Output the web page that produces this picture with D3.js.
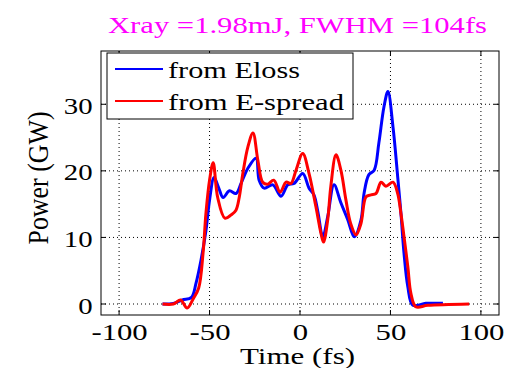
<!DOCTYPE html>
<html>
<head>
<meta charset="utf-8">
<script src="https://cdn.jsdelivr.net/npm/d3@7"></script>
<style>
  body { margin: 0; background: #fff; }
  svg { display: block; }
  svg text { font-family: "Liberation Serif", "Times New Roman", Times, serif; font-weight: normal; }
</style>
</head>
<body>
<svg id="chart" width="510" height="368"></svg>
<script>
// series
const elossT = [-76, -70, -65, -60, -57.5, -54.7, -52, -50, -47.5, -45, -42.5, -39, -35.4, -32.6, -28.8, -24.3, -22.6, -19.8, -15, -10.5, -6.7, -3.3, 1.5, 5, 7.7, 9.9, 12.6, 15.3, 18.8, 22.6, 26.5, 30, 33.7, 35.4, 38, 41, 43.6, 46.4, 48.6, 51.4, 54, 55.8, 57.5, 59.6, 62.4, 69.6, 79]
const elossP = [0, 0.1, 0.6, 1.0, 3.1, 6.6, 11, 15.6, 19, 17.5, 16, 17, 16.6, 18.1, 20.4, 21.9, 18.6, 17.4, 17.9, 16.2, 17.9, 18.1, 19.6, 17.4, 16.4, 13.8, 10.1, 13.1, 17.9, 15.2, 12.6, 10.1, 12.6, 16.6, 19.4, 20.1, 24.2, 29.6, 31.9, 26.6, 19.1, 13.6, 7.6, 2.6, -0.2, 0.1, 0.1]

const spreadT = [-76, -70, -66, -62.4, -59, -56, -53.6, -52, -50, -48, -45.5, -41.5, -38, -35.4, -33.6, -31.6, -28.8, -26, -23.3, -20.6, -17.9, -14.5, -11, -7.7, -5, -2.2, 1.5, 5, 8.8, 11.6, 13, 15.3, 17, 19.9, 22.6, 25.4, 28, 31, 33.7, 36.5, 39.2, 42, 44.8, 47.5, 51.4, 54, 55.8, 57.5, 59.6, 61.3, 64, 70.7, 93.5]
const spreadP = [0, 0, 0.6, -0.6, 0.8, 2.4, 7.6, 13.6, 18.6, 21.2, 16, 12.9, 13.4, 14.1, 16, 19.6, 23.6, 25.7, 21.6, 18.3, 18.0, 18.6, 16.8, 18.3, 18.1, 20.1, 22.6, 19.6, 14.6, 10.6, 9.3, 12.6, 17.6, 22.4, 20.1, 15.6, 12.1, 10.4, 12.1, 16.1, 16.4, 16.6, 18.3, 17.7, 18.3, 16.6, 13.6, 10.1, 5.6, 1.6, -0.4, -0.2, 0]

const xTicks = [-100, -50, 0, 50, 100]
const yTicks = [0, 10, 20, 30]
const seriesNames = ["from Eloss", "from E-spread"]
const seriesColors = ["#0000ff", "#ff0000"]
const titleText = "Xray =1.98mJ, FWHM =104fs"

const svg = d3.select("#chart")
const plotL = 101, plotR = 499, plotT = 51, plotB = 315
const FONT = "Liberation Serif"

const x = d3.scaleLinear().domain([-110, 110]).range([plotL, plotR])
const y = d3.scaleLinear().domain([-1.65, 38]).range([plotB, plotT])

// grid
svg.append("g")
  .selectAll("line")
  .data(xTicks)
  .enter()
  .append("line")
  .attr("x1", (d) => x(d)).attr("x2", (d) => x(d))
  .attr("y1", plotT).attr("y2", plotB)
  .attr("stroke", "#000").attr("stroke-width", 1)
  .attr("stroke-dasharray", "1,3")
svg.append("g")
  .selectAll("line")
  .data(yTicks)
  .enter()
  .append("line")
  .attr("y1", (d) => y(d)).attr("y2", (d) => y(d))
  .attr("x1", plotL).attr("x2", plotR)
  .attr("stroke", "#000").attr("stroke-width", 1)
  .attr("stroke-dasharray", "1,3")

// curves
const line = d3.line()
  .x((d) => x(d[0]))
  .y((d) => y(d[1]))
  .curve(d3.curveCatmullRom.alpha(0.5))

const series = [
  d3.zip(elossT, elossP),
  d3.zip(spreadT, spreadP),
]
svg.append("g")
  .selectAll("path")
  .data(series)
  .enter()
  .append("path")
  .attr("d", line)
  .attr("fill", "none")
  .attr("stroke", (d, i) => seriesColors[i])
  .attr("stroke-width", 3)
  .attr("stroke-linejoin", "round")

// box + inward ticks
svg.append("rect")
  .attr("x", plotL).attr("y", plotT)
  .attr("width", plotR - plotL).attr("height", plotB - plotT)
  .attr("fill", "none").attr("stroke", "#000").attr("stroke-width", 1)

const tickLen = 5
const ticks = svg.append("g").attr("stroke", "#000").attr("stroke-width", 1)
xTicks.forEach((t) => {
  ticks.append("line").attr("x1", x(t)).attr("x2", x(t)).attr("y1", plotB).attr("y2", plotB - tickLen)
  ticks.append("line").attr("x1", x(t)).attr("x2", x(t)).attr("y1", plotT).attr("y2", plotT + tickLen)
})
yTicks.forEach((t) => {
  ticks.append("line").attr("y1", y(t)).attr("y2", y(t)).attr("x1", plotL).attr("x2", plotL + tickLen)
  ticks.append("line").attr("y1", y(t)).attr("y2", y(t)).attr("x1", plotR).attr("x2", plotR - tickLen)
})

// axis labels
const xAxis = svg.append("g")
  .attr("transform", `translate(0,${plotB})`)
  .call(d3.axisBottom(x).tickValues(xTicks).tickSize(0).tickPadding(8).tickFormat((d) => String(d)))
xAxis.attr("font-family", FONT)
xAxis.select(".domain").remove()
xAxis.selectAll("text")
  .attr("font-size", 24).attr("fill", "#000")
  .attr("transform", "scale(1.28,1)")

const yAxis = svg.append("g")
  .attr("transform", `translate(${plotL},0)`)
  .call(d3.axisLeft(y).tickValues(yTicks).tickSize(0).tickPadding(7))
yAxis.attr("font-family", FONT)
yAxis.select(".domain").remove()
yAxis.selectAll("text")
  .attr("font-size", 24).attr("fill", "#000")
  .attr("dy", "0.38em")
  .attr("transform", "scale(1.2,1)")

// title and labels
svg.append("text")
  .attr("x", 297.5).attr("y", 33)
  .attr("text-anchor", "middle")
  .attr("font-size", 24)
  .attr("fill", "#ff00ff")
  .attr("textLength", 379).attr("lengthAdjust", "spacingAndGlyphs")
  .text(titleText)

svg.append("text")
  .attr("x", 297.5).attr("y", 364)
  .attr("text-anchor", "middle")
  .attr("font-size", 24)
  .attr("textLength", 115).attr("lengthAdjust", "spacingAndGlyphs")
  .text("Time (fs)")

svg.append("text")
  .attr("transform", "translate(48,178) scale(1.2,1) rotate(-90)")
  .attr("text-anchor", "middle")
  .attr("font-size", 25)
  .attr("textLength", 133).attr("lengthAdjust", "spacingAndGlyphs")
  .text("Power (GW)")

// legend
const legend = svg.append("g")
legend.append("rect")
  .attr("x", 107).attr("y", 53).attr("width", 246).attr("height", 66)
  .attr("fill", "#fff").attr("stroke", "#000").attr("stroke-width", 1)
const legendLens = [132, 176]
seriesNames.forEach((name, i) => {
  const ly = 69 + i * 32
  legend.append("line")
    .attr("x1", 115).attr("x2", 163).attr("y1", ly).attr("y2", ly)
    .attr("stroke", seriesColors[i]).attr("stroke-width", 2)
  legend.append("text")
    .attr("x", 168).attr("y", ly + 9)
    .attr("font-size", 23)
    .attr("textLength", legendLens[i]).attr("lengthAdjust", "spacingAndGlyphs")
    .text(name)
})
</script>
</body>
</html>
